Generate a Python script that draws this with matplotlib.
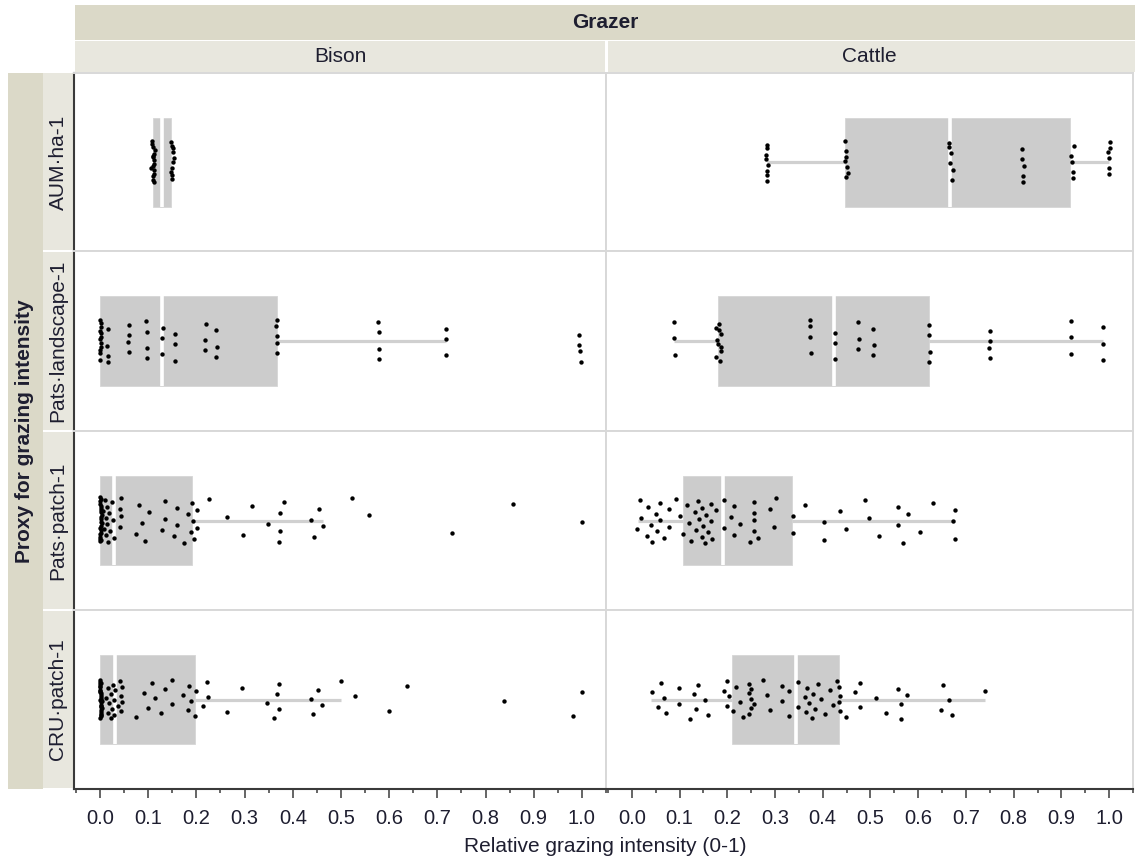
import numpy as np
import matplotlib
matplotlib.use("Agg")
import matplotlib.pyplot as plt
from matplotlib.patches import Rectangle

plt.rcParams['font.family'] = ['Liberation Sans', 'DejaVu Sans']

# ---------------------------------------------------------------- data
grazers = ["Bison", "Cattle"]
proxies = ["AUM·ha-1", "Pats·landscape-1", "Pats·patch-1", "CRU·patch-1"]
x_ticks = [0.0, 0.1, 0.2, 0.3, 0.4, 0.5, 0.6, 0.7, 0.8, 0.9, 1.0]
x_tick_labels = ["0.0", "0.1", "0.2", "0.3", "0.4", "0.5", "0.6", "0.7", "0.8", "0.9", "1.0"]

bison_aum = [0.106, 0.108, 0.110, 0.111, 0.109, 0.112, 0.110, 0.113, 0.111,
             0.108, 0.112, 0.110, 0.114, 0.109, 0.111, 0.110,
             0.148, 0.150, 0.151, 0.149, 0.152, 0.150, 0.147, 0.153, 0.150, 0.151]
cattle_aum = [0.282, 0.284, 0.283, 0.285, 0.283, 0.282, 0.284, 0.283,
              0.447, 0.449, 0.448, 0.450, 0.447, 0.449, 0.452,
              0.664, 0.667, 0.670, 0.668, 0.673, 0.665,
              0.817, 0.820, 0.818, 0.822, 0.819,
              0.921, 0.924, 0.926, 0.922, 0.925,
              0.997, 1.000, 1.002, 0.999, 1.000, 1.001]

bison_landscape = [0.000, 0.001, 0.000, 0.002, 0.000, 0.003, 0.001, 0.000, 0.002, 0.000, 0.001, 0.000,
                   0.016, 0.016, 0.015, 0.017,
                   0.060, 0.060, 0.061, 0.059,
                   0.097, 0.097, 0.098, 0.096,
                   0.129, 0.129, 0.130,
                   0.155, 0.156, 0.155,
                   0.218, 0.219, 0.217,
                   0.240, 0.241, 0.242,
                   0.367, 0.367, 0.368, 0.366, 0.367,
                   0.578, 0.578, 0.579, 0.577,
                   0.717, 0.717, 0.718,
                   0.995, 0.998, 0.993, 0.997]
cattle_landscape = [0.089, 0.089, 0.090,
                    0.177, 0.180, 0.184, 0.187, 0.186, 0.182, 0.179, 0.176, 0.183, 0.186,
                    0.374, 0.374, 0.375, 0.373,
                    0.425, 0.425, 0.426,
                    0.474, 0.474, 0.475,
                    0.506, 0.506, 0.507,
                    0.623, 0.623, 0.624, 0.622,
                    0.750, 0.750, 0.751, 0.749,
                    0.920, 0.920, 0.921,
                    0.987, 0.987, 0.988]

bison_patch = [0.000, 0.001, 0.000, 0.002, 0.003, 0.000, 0.001, 0.004, 0.000, 0.002, 0.001,
               0.000, 0.003, 0.000, 0.001, 0.002, 0.000, 0.004, 0.001, 0.000, 0.002, 0.003,
               0.006, 0.009, 0.011, 0.012, 0.013, 0.014, 0.014, 0.016, 0.018, 0.020, 0.024,
               0.026, 0.030,
               0.041, 0.042, 0.043, 0.044,
               0.075, 0.080, 0.087, 0.094, 0.102,
               0.128, 0.134, 0.135,
               0.153, 0.160, 0.160, 0.175,
               0.183, 0.189, 0.190, 0.193, 0.194,
               0.202, 0.202,
               0.227, 0.264, 0.297, 0.315, 0.348, 0.371, 0.374, 0.374, 0.382,
               0.437, 0.445, 0.455, 0.463,
               0.522, 0.559, 0.731, 0.857, 1.000]
cattle_patch = [0.010, 0.017, 0.019, 0.031, 0.033, 0.040, 0.042, 0.051, 0.052, 0.059, 0.059,
                0.067, 0.078, 0.078, 0.093, 0.100, 0.107, 0.115, 0.119, 0.125, 0.132, 0.134,
                0.139, 0.141, 0.147, 0.148, 0.150, 0.154, 0.155, 0.160, 0.167, 0.167, 0.168,
                0.176, 0.194, 0.194, 0.208, 0.215, 0.215, 0.226, 0.248, 0.255, 0.256, 0.256,
                0.256, 0.264, 0.290, 0.298, 0.302, 0.337, 0.337, 0.363, 0.403, 0.403, 0.437,
                0.448, 0.488, 0.496, 0.518, 0.558, 0.558, 0.569, 0.578, 0.603, 0.632, 0.672,
                0.677, 0.677]

bison_cru = [0.000, 0.001, 0.000, 0.002, 0.000, 0.003, 0.001, 0.000, 0.002, 0.000, 0.001,
             0.004, 0.000, 0.002, 0.001, 0.000, 0.003, 0.000, 0.001, 0.002, 0.000, 0.004,
             0.001, 0.000, 0.002, 0.003,
             0.012, 0.016, 0.017, 0.018, 0.022, 0.023, 0.024, 0.027, 0.028, 0.030, 0.032,
             0.037, 0.041, 0.043, 0.044, 0.046, 0.046,
             0.074, 0.092, 0.100, 0.107, 0.115, 0.127, 0.134, 0.150, 0.150, 0.173, 0.183,
             0.185, 0.188, 0.198, 0.200, 0.214, 0.222, 0.225,
             0.263, 0.295, 0.346, 0.361, 0.367, 0.372, 0.372, 0.438, 0.442, 0.452, 0.461,
             0.501, 0.530, 0.599, 0.636, 0.839, 0.981, 1.000]
cattle_cru = [0.042, 0.055, 0.061, 0.068, 0.071, 0.098, 0.098, 0.123, 0.130, 0.135, 0.138,
              0.153, 0.160, 0.194, 0.199, 0.199, 0.204, 0.212, 0.219, 0.227, 0.232, 0.245,
              0.249, 0.245, 0.249, 0.245, 0.249, 0.256, 0.274, 0.284, 0.290, 0.315, 0.315,
              0.330, 0.330, 0.348, 0.348, 0.363, 0.365, 0.367, 0.372, 0.377, 0.379, 0.383,
              0.390, 0.397, 0.404, 0.415, 0.422, 0.429, 0.436, 0.436, 0.434, 0.434, 0.448,
              0.467, 0.479, 0.479, 0.511, 0.532, 0.558, 0.565, 0.565, 0.577, 0.648, 0.652,
              0.665, 0.670, 0.739]

# box summaries: whisker low, Q1, median, Q3, whisker high
bison_aum_box = [0.110, 0.110, 0.129, 0.1465, 0.1465]
cattle_aum_box = [0.283, 0.447, 0.667, 0.918, 1.000]
bison_landscape_box = [0.000, 0.000, 0.128, 0.367, 0.717]
cattle_landscape_box = [0.089, 0.181, 0.424, 0.623, 0.987]
bison_patch_box = [0.000, 0.000, 0.029, 0.191, 0.463]
cattle_patch_box = [0.012, 0.107, 0.192, 0.336, 0.677]
bison_cru_box = [0.000, 0.000, 0.032, 0.198, 0.501]
cattle_cru_box = [0.041, 0.210, 0.345, 0.435, 0.739]

points = [[bison_aum, cattle_aum],
          [bison_landscape, cattle_landscape],
          [bison_patch, cattle_patch],
          [bison_cru, cattle_cru]]
boxes = [[bison_aum_box, cattle_aum_box],
         [bison_landscape_box, cattle_landscape_box],
         [bison_patch_box, cattle_patch_box],
         [bison_cru_box, cattle_cru_box]]

# ---------------------------------------------------------------- layout
W, H = 1135, 859
fig = plt.figure(figsize=(W / 100, H / 100), dpi=100)
fig.patch.set_facecolor("white")

DARK_STRIP = "#dbd9c8"
LIGHT_STRIP = "#e8e7de"
TEXT = "#1e1e30"
FRAME = "#d8d8d8"

col_edges = [74, 606, 1133]
row_edges = [73, 251, 431, 610, 789]
xlim = (-0.054, 1.05)
jitter_spread = [0.12, 0.12, 0.13, 0.11]

# background canvas in pixel coordinates for the strips
bg = fig.add_axes([0, 0, 1, 1])
bg.set_xlim(0, W)
bg.set_ylim(H, 0)
bg.axis("off")

bg.add_patch(Rectangle((75, 5), W - 75, 34.5, facecolor=DARK_STRIP, edgecolor="none"))
bg.add_patch(Rectangle((75, 41), 530, 31, facecolor=LIGHT_STRIP, edgecolor="none"))
bg.add_patch(Rectangle((607.5, 41), W - 607.5, 31, facecolor=LIGHT_STRIP, edgecolor="none"))
bg.add_patch(Rectangle((8, 73), 35, 716, facecolor=DARK_STRIP, edgecolor="none"))
for r in range(4):
    y0 = row_edges[r] + (1 if r > 0 else 0)
    bg.add_patch(Rectangle((43, y0), 30.5, row_edges[r + 1] - y0 - 1,
                           facecolor=LIGHT_STRIP, edgecolor="none"))

bg.text(605, 22, "Grazer", ha="center", va="center", fontsize=15,
        fontweight="bold", color=TEXT)
for c, name in enumerate(grazers):
    bg.text((col_edges[c] + col_edges[c + 1]) / 2, 56, name, ha="center",
            va="center", fontsize=15, color=TEXT)
bg.text(25, (row_edges[0] + row_edges[-1]) / 2, "Proxy for grazing intensity",
        rotation=90, ha="center", va="center", fontsize=15, fontweight="bold",
        color=TEXT)
for r, name in enumerate(proxies):
    bg.text(58, (row_edges[r] + row_edges[r + 1]) / 2, name, rotation=90,
            ha="center", va="center", fontsize=15, color=TEXT)
bg.text(605, 846, "Relative grazing intensity (0-1)", ha="center", va="center",
        fontsize=15, color=TEXT)


def jitter(n, spread, phase):
    k = (np.arange(n) * 0.6180339887 + phase) % 1.0
    return (k * 2.0 - 1.0) * spread


for r in range(4):
    for c in range(2):
        x0, x1 = col_edges[c], col_edges[c + 1]
        y0, y1 = row_edges[r], row_edges[r + 1]
        ax = fig.add_axes([x0 / W, 1 - y1 / H, (x1 - x0) / W, (y1 - y0) / H])
        ax.set_facecolor("white")
        ax.set_xlim(*xlim)
        ax.set_ylim(-0.5, 0.5)

        lo, q1, med, q3, hi = boxes[r][c]
        stats = [dict(whislo=lo, q1=q1, med=med, q3=q3, whishi=hi, fliers=[])]
        kw = dict(positions=[0], widths=0.5, patch_artist=True, showcaps=False,
                  showfliers=False,
                  boxprops=dict(facecolor="#cccccc", edgecolor="#d6d6d6", linewidth=0.6),
                  medianprops=dict(color="white", linewidth=2.6, solid_capstyle="butt"),
                  whiskerprops=dict(color="#d0d0d0", linewidth=2.3, solid_capstyle="butt"))
        try:
            ax.bxp(stats, orientation="horizontal", **kw)
        except TypeError:
            ax.bxp(stats, vert=False, **kw)

        vals = np.asarray(points[r][c])
        ys = jitter(len(vals), jitter_spread[r], 0.37 * (r + 1) + 0.21 * c)
        ax.scatter(vals, ys, s=10, marker="o", color="black", linewidths=0, zorder=4)

        ax.set_ylim(-0.5, 0.5)
        ax.set_xlim(*xlim)
        ax.set_yticks([])
        for side in ("left", "right", "top", "bottom"):
            ax.spines[side].set_color(FRAME)
            ax.spines[side].set_linewidth(1.4)
        if c == 0:
            ax.spines["left"].set_color("#3a3a3a")
            ax.spines["left"].set_linewidth(1.5)
        if r == 3:
            ax.spines["bottom"].set_color("#3a3a3a")
            ax.spines["bottom"].set_linewidth(1.5)
            ax.set_xticks(x_ticks)
            ax.set_xticklabels(x_tick_labels)
            ax.set_xticks(list(np.array(x_ticks[:-1]) + 0.05) + [-0.05, 1.05], minor=True)
            ax.tick_params(axis="x", which="major", length=6.5, width=1.1,
                           color="#3a3a3a", labelsize=14.5, labelcolor=TEXT, pad=8)
            ax.tick_params(axis="x", which="minor", length=3.2, width=1.1,
                           color="#3a3a3a")
        else:
            ax.set_xticks([])

fig.savefig("out.png", dpi=100, facecolor="white")
